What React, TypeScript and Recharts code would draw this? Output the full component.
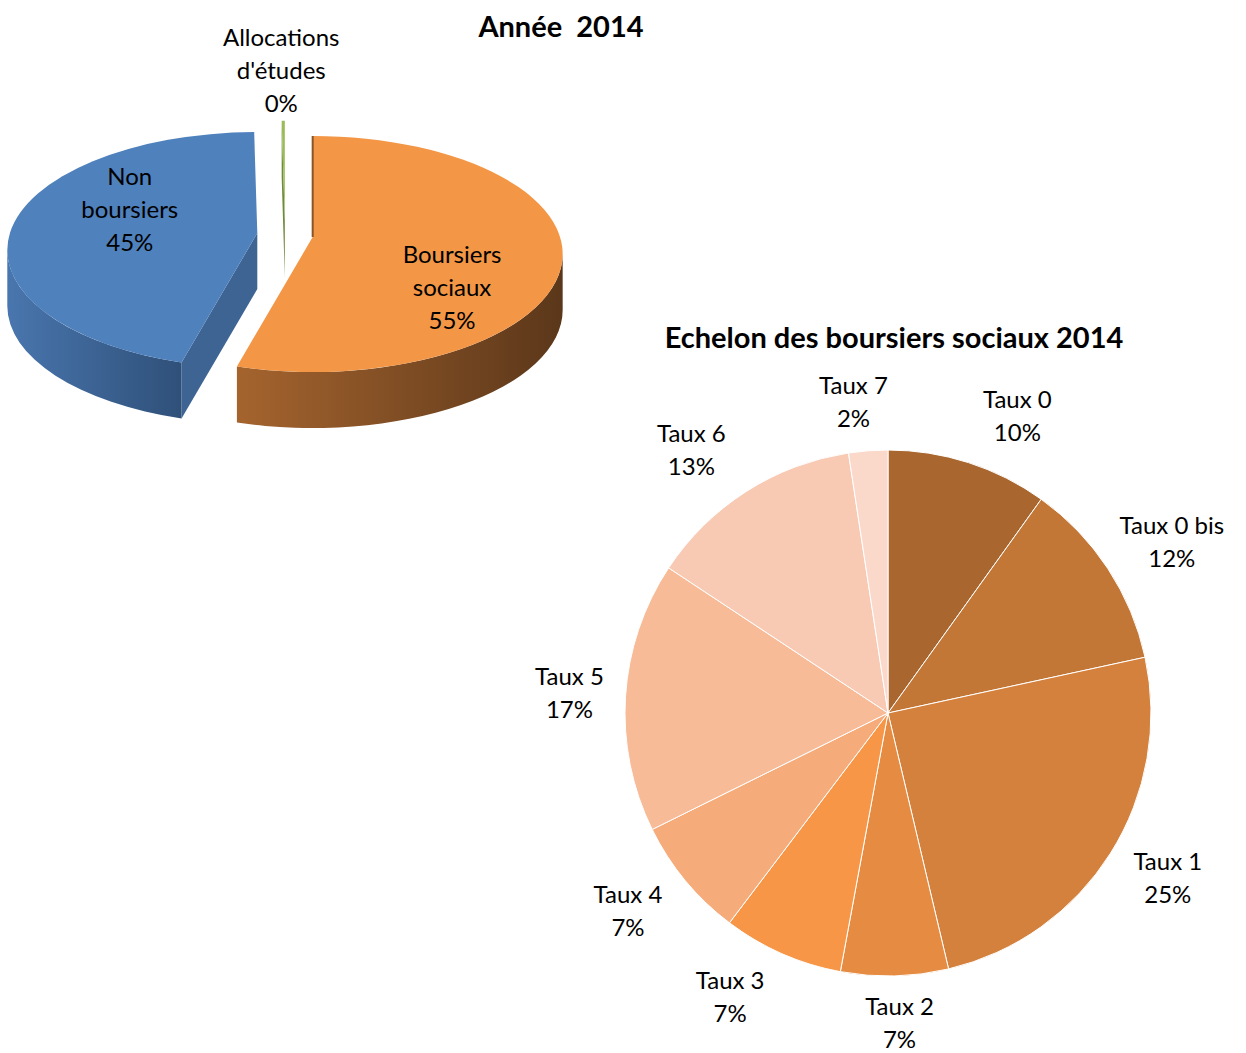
import { PieChart, Pie, Cell } from "recharts";

const yearTitle = "Année  2014";
const schoolCategories = ["Boursiers sociaux", "Non boursiers", "Allocations d'études"];
const schoolShares = [54.9, 44.9, 0.2];

const echelonTitle = "Echelon des boursiers sociaux 2014";
const echelonCategories = [
  "Taux 0",
  "Taux 0 bis",
  "Taux 1",
  "Taux 2",
  "Taux 3",
  "Taux 4",
  "Taux 5",
  "Taux 6",
  "Taux 7",
];
const echelonShares = [9.9, 11.7, 24.7, 6.6, 7.4, 7.4, 16.6, 13.3, 2.4];

const schoolData = schoolCategories.map((name, i) => ({ name, value: schoolShares[i] }));
const echelonData = echelonCategories.map((name, i) => ({ name, value: echelonShares[i] }));

// colours
const topColors = ["#F39645", "#4F81BD", "#9BBB59"];
const wallColors = [
  ["#A5642E", "#5B371A"],
  ["#4976AE", "#2F5079"],
  ["#7E9A45", "#5E7433"],
];
const cutColors = ["#8A5426", "#3E6494", "#6E8A3A"];
const echelonColors = [
  "#A9672F",
  "#C27737",
  "#D4813D",
  "#E68B42",
  "#F79646",
  "#F6AB7B",
  "#F8BB98",
  "#F8CAB4",
  "#FAD9CB",
];

const FONT = "Lato, Carlito, Calibri, sans-serif";
const LABEL_SIZE = 24;

// fake 3d settings for the first pie
const TILT = 0.472;
const DROP = 0.068;
const DEPTH = 56;
const EXPLODE = 28;

const toRad = (d: number) => (d * Math.PI) / 180;

function MultiLine({ x, y, lines }: { x: number; y: number; lines: string[] }) {
  const lh = 33;
  return (
    <text textAnchor="middle" fontFamily={FONT} fontSize={LABEL_SIZE} fill="#000">
      {lines.map((t, i) => (
        <tspan key={i} x={x} y={y + (i - (lines.length - 1) / 2) * lh + 8}>
          {t}
        </tspan>
      ))}
    </text>
  );
}

function Slice3D(props: any) {
  const { cx, cy, outerRadius, startAngle, endAngle } = props;
  const idx = Math.max(0, schoolCategories.indexOf(props.payload?.name ?? props.name));
  const R = outerRadius;
  const ry = R * TILT;
  const drop = R * DROP;
  const b1 = 90 - startAngle;
  const b2 = 90 - endAngle;
  const mid = toRad((b1 + b2) / 2);
  const ax = cx + EXPLODE * Math.sin(mid);
  const ay = cy - EXPLODE * TILT * Math.cos(mid);
  const at = (b: number, z: number) => {
    const a = toRad(b);
    return `${ax + R * Math.sin(a)},${ay + drop + z - ry * Math.cos(a)}`;
  };
  const apex = (z: number) => `${ax},${ay + z}`;

  const top = `M${apex(0)} L${at(b1, 0)} A${R},${ry} 0 ${b2 - b1 > 180 ? 1 : 0} 1 ${at(b2, 0)} Z`;
  const faces: string[] = [];
  if (Math.sin(toRad(b1)) < 0)
    faces.push(`M${apex(0)} L${at(b1, 0)} L${at(b1, DEPTH)} L${apex(DEPTH)} Z`);
  if (Math.sin(toRad(b2)) > 0)
    faces.push(`M${apex(0)} L${at(b2, 0)} L${at(b2, DEPTH)} L${apex(DEPTH)} Z`);
  const w1 = Math.max(b1, 90);
  const w2 = Math.min(b2, 270);
  const wall =
    w2 > w1
      ? `M${at(w1, 0)} A${R},${ry} 0 0 1 ${at(w2, 0)} L${at(w2, DEPTH)} A${R},${ry} 0 0 0 ${at(w1, DEPTH)} Z`
      : null;
  // thin dark edge seen on a back cut that sits right of the viewer
  const backEdge =
    Math.abs(Math.sin(toRad(b1))) < 0.01 && ax > cx ? `M${apex(0)} L${at(b1, 0)}` : null;
  const gid = `wall-grad-${idx}`;

  return (
    <g>
      <defs>
        <linearGradient id={gid} x1="0" y1="0" x2="1" y2="0">
          <stop offset="0" stopColor={wallColors[idx][0]} />
          <stop offset="1" stopColor={wallColors[idx][1]} />
        </linearGradient>
      </defs>
      {faces.map((d, i) => (
        <path key={i} d={d} fill={cutColors[idx]} />
      ))}
      {wall && <path d={wall} fill={`url(#${gid})`} />}
      <path d={top} fill={topColors[idx]} />
      {backEdge && <path d={backEdge} stroke={cutColors[idx]} strokeWidth={2} fill="none" />}
    </g>
  );
}

function SchoolLabel(props: any) {
  const { cx, cy, outerRadius, midAngle, percent, name } = props;
  const R = outerRadius;
  const ry = R * TILT;
  const drop = R * DROP;
  const m = toRad(90 - midAngle);
  const ax = cx + EXPLODE * Math.sin(m);
  const ay = cy - EXPLODE * TILT * Math.cos(m);
  let x: number;
  let y: number;
  if (percent < 0.02) {
    x = ax + R * Math.sin(m) - 2;
    y = ay + drop - ry * Math.cos(m) - 50;
  } else {
    x = ax + 0.54 * R * Math.sin(m) + 6;
    y = ay + drop - 0.54 * ry * Math.cos(m) + 28 * Math.sin(m) - 3;
  }
  const lines = [...String(name).split(" "), `${Math.round(percent * 100)}%`];
  return <MultiLine x={x} y={y} lines={lines} />;
}

function EchelonLabel(props: any) {
  const { cx, cy, outerRadius, midAngle, percent, name } = props;
  const b = toRad(90 - midAngle);
  const s = Math.sin(b);
  const c = Math.cos(b);
  const r = outerRadius + 48;
  const hw = String(name).length * 5.5 + 2;
  const x = cx + r * s + hw * Math.sign(s) * Math.min(1, 4 * Math.abs(s)) * c * c + 8 * s;
  const y = cy - r * c;
  return <MultiLine x={x} y={y} lines={[String(name), `${Math.round(percent * 100)}%`]} />;
}

const titleStyle = (centerX: number, centerY: number): React.CSSProperties => ({
  position: "absolute",
  left: centerX - 320,
  width: 640,
  top: centerY - 18,
  lineHeight: "36px",
  textAlign: "center",
  fontFamily: FONT,
  fontWeight: 700,
  fontSize: 29,
  color: "#000",
  whiteSpace: "pre",
});

export default function App() {
  return (
    <div
      style={{
        position: "absolute",
        left: 0,
        top: 0,
        width: 1246,
        height: 1053,
        background: "#fff",
        overflow: "hidden",
      }}
    >
      <PieChart width={1246} height={1053} margin={{ top: 0, right: 0, bottom: 0, left: 0 }}>
        <Pie
          data={schoolData}
          dataKey="value"
          nameKey="name"
          cx={285}
          cy={235}
          outerRadius={250}
          startAngle={90}
          endAngle={-270}
          stroke="none"
          shape={Slice3D}
          label={SchoolLabel}
          labelLine={false}
          isAnimationActive={false}
        >
          {schoolData.map((d, i) => (
            <Cell key={d.name} fill={topColors[i]} />
          ))}
        </Pie>
        <Pie
          data={echelonData}
          dataKey="value"
          nameKey="name"
          cx={888}
          cy={713}
          outerRadius={263}
          startAngle={90}
          endAngle={-270}
          stroke="#fff"
          strokeWidth={1}
          label={EchelonLabel}
          labelLine={false}
          isAnimationActive={false}
        >
          {echelonData.map((d, i) => (
            <Cell key={d.name} fill={echelonColors[i]} />
          ))}
        </Pie>
      </PieChart>
      <div style={titleStyle(561, 26)}>{yearTitle}</div>
      <div style={titleStyle(894, 337)}>{echelonTitle}</div>
    </div>
  );
}
